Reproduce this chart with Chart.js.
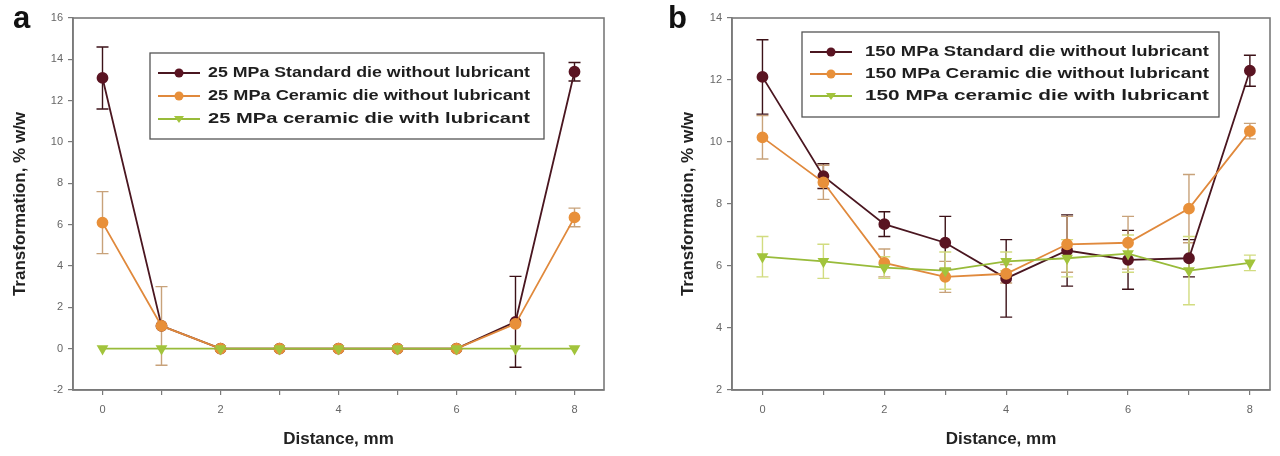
<!DOCTYPE html>
<html>
<head>
<meta charset="utf-8">
<script src="https://cdn.jsdelivr.net/npm/chart.js@4/dist/chart.umd.min.js"></script>
<style>
body { margin: 0; background: #fff; }
.panel { position: absolute; top: 0; width: 640px; height: 456px; }
.tag { position: absolute; font: bold 31px "Liberation Sans", Arial, sans-serif; color: #111; line-height: 1; }
</style>
</head>
<body>
<div class="panel" style="left:0"><canvas id="chartA" width="640" height="456"></canvas></div>
<div class="panel" style="left:640px"><canvas id="chartB" width="640" height="456"></canvas></div>
<div class="tag" style="left:13px;top:2px">a</div>
<div class="tag" style="left:668px;top:2px">b</div>
<script>
// Distance along the sample, mm
const distance = [0, 1, 2, 3, 4, 5, 6, 7, 8];

// Panel a: 25 MPa
const a_standard     = [13.1, 1.1, 0, 0, 0, 0, 0, 1.3, 13.4];
const a_standardErr  = [1.5, 0, 0, 0, 0, 0, 0, 2.2, 0.45];
const a_ceramic      = [6.1, 1.1, 0, 0, 0, 0, 0, 1.2, 6.35];
const a_ceramicErr   = [1.5, 1.9, 0, 0, 0, 0, 0, 0, 0.45];
const a_lubricant    = [0, 0, 0, 0, 0, 0, 0, 0, 0];
const a_lubricantErr = [0, 0, 0, 0, 0, 0, 0, 0, 0];

// Panel b: 150 MPa
const b_standard     = [12.1, 8.9, 7.35, 6.75, 5.6, 6.5, 6.2, 6.25, 12.3];
const b_standardErr  = [1.2, 0.4, 0.4, 0.85, 1.25, 1.15, 0.95, 0.6, 0.5];
const b_ceramic      = [10.15, 8.7, 6.1, 5.65, 5.75, 6.7, 6.75, 7.85, 10.35];
const b_ceramicErr   = [0.7, 0.55, 0.45, 0.5, 0.3, 0.9, 0.85, 1.1, 0.25];
const b_lubricant    = [6.3, 6.15, 5.95, 5.85, 6.15, 6.25, 6.4, 5.85, 6.1];
const b_lubricantErr = [0.65, 0.55, 0.35, 0.6, 0.3, 0.6, 0.6, 1.1, 0.25];

const xTicks = [0, 1, 2, 3, 4, 5, 6, 7, 8];

const FONT = '"Liberation Sans", Arial, sans-serif';
const AXIS = '#7a7a7a';

// order: lubricant drawn on top, standard at the bottom
const styles = {
    standard:  { line: '#4a1620', point: '#5a1422', err: '#3c1218', shape: 'circle', rot: 0, order: 3 },
    ceramic:   { line: '#e0893c', point: '#e8903a', err: '#c8a27a', shape: 'circle', rot: 0, order: 2 },
    lubricant: { line: '#98bb3a', point: '#a2c43c', err: '#d2dc80', shape: 'triangle', rot: 180, order: 1 }
};

function makeSet(label, values, errs, st) {
    return {
        label: label,
        data: distance.map((d, i) => ({ x: d, y: values[i] })),
        errors: errs,
        errColor: st.err,
        order: st.order,
        borderColor: st.line,
        backgroundColor: st.point,
        pointBackgroundColor: st.point,
        pointBorderColor: st.point,
        pointStyle: st.shape,
        pointRotation: st.rot,
        pointRadius: 5,
        borderWidth: 1.8,
        tension: 0
    };
}

// error bars drawn under the markers
const errorBars = {
    id: 'errorBars',
    beforeDatasetsDraw(chart) {
        const ctx = chart.ctx;
        const y = chart.scales.y;
        chart.data.datasets.forEach((ds, i) => {
            const meta = chart.getDatasetMeta(i);
            ctx.save();
            ctx.strokeStyle = ds.errColor;
            ctx.lineWidth = 1.4;
            meta.data.forEach((pt, j) => {
                const e = ds.errors[j];
                if (!e) return;
                const v = ds.data[j].y;
                const top = y.getPixelForValue(v + e);
                const bot = y.getPixelForValue(v - e);
                ctx.beginPath();
                ctx.moveTo(pt.x, top); ctx.lineTo(pt.x, bot);
                ctx.moveTo(pt.x - 6, top); ctx.lineTo(pt.x + 6, top);
                ctx.moveTo(pt.x - 6, bot); ctx.lineTo(pt.x + 6, bot);
                ctx.stroke();
            });
            ctx.restore();
        });
    }
};

// frame round the plot
const frame = {
    id: 'frame',
    afterDraw(chart) {
        const a = chart.chartArea, ctx = chart.ctx;
        ctx.save();
        ctx.strokeStyle = AXIS;
        ctx.lineWidth = 1.6;
        ctx.strokeRect(a.left, a.top, a.right - a.left, a.bottom - a.top);
        ctx.restore();
    }
};

// boxed legend inside the plot
const boxLegend = {
    id: 'boxLegend',
    afterDraw(chart, args, opts) {
        const ctx = chart.ctx;
        ctx.save();
        ctx.fillStyle = '#fff';
        ctx.fillRect(opts.x, opts.y, opts.w, opts.h);
        ctx.strokeStyle = '#555';
        ctx.lineWidth = 1.3;
        ctx.strokeRect(opts.x, opts.y, opts.w, opts.h);
        ctx.font = 'bold 14px ' + FONT;
        ctx.textBaseline = 'middle';
        chart.data.datasets.forEach((ds, i) => {
            const ry = opts.y + opts.first + i * opts.gap;
            const lx = opts.x + 8;
            ctx.strokeStyle = ds.borderColor;
            ctx.lineWidth = 2;
            ctx.beginPath();
            ctx.moveTo(lx, ry); ctx.lineTo(lx + 42, ry);
            ctx.stroke();
            ctx.fillStyle = ds.pointBackgroundColor;
            ctx.beginPath();
            if (ds.pointStyle === 'circle') {
                ctx.arc(lx + 21, ry, 4.5, 0, Math.PI * 2);
            } else {
                ctx.moveTo(lx + 16, ry - 3); ctx.lineTo(lx + 26, ry - 3); ctx.lineTo(lx + 21, ry + 4);
                ctx.closePath();
            }
            ctx.fill();
            ctx.fillStyle = '#1e1e1e';
            const t = ds.label;
            const w = ctx.measureText(t).width;
            const sx = opts.textW / w;
            ctx.save();
            ctx.translate(opts.x + opts.textX, ry);
            ctx.scale(sx, 1);
            ctx.fillText(t, 0, 0);
            ctx.restore();
        });
        ctx.restore();
    }
};

function makeChart(id, sets, yMin, yMax, xMax, padLeft, padRight, yWidth, legend) {
    return new Chart(document.getElementById(id).getContext('2d'), {
        type: 'line',
        data: { datasets: sets },
        options: {
            responsive: false,
            animation: false,
            layout: { padding: { top: 18, right: padRight, left: padLeft, bottom: 0 } },
            plugins: {
                legend: { display: false },
                tooltip: { enabled: false },
                boxLegend: legend
            },
            scales: {
                x: {
                    type: 'linear',
                    min: -0.5,
                    max: xMax,
                    afterBuildTicks: (s) => { s.ticks = xTicks.map(v => ({ value: v })); },
                    afterFit: (s) => { s.height = 66; },
                    grid: { drawOnChartArea: false, tickLength: 5, color: AXIS, lineWidth: 1.2 },
                    border: { color: AXIS, width: 1.6 },
                    ticks: {
                        color: '#666',
                        font: { family: FONT, size: 11 },
                        padding: 8,
                        autoSkip: false,
                        maxRotation: 0,
                        callback: (v) => (v % 2 === 0 ? String(v) : '')
                    },
                    title: {
                        display: true,
                        text: 'Distance, mm',
                        color: '#222',
                        font: { family: FONT, size: 17, weight: 'bold' },
                        padding: { top: 0, bottom: 6 }
                    }
                },
                y: {
                    min: yMin,
                    max: yMax,
                    afterFit: (s) => { s.width = yWidth; },
                    grid: { drawOnChartArea: false, tickLength: 5, color: AXIS, lineWidth: 1.2 },
                    border: { color: AXIS, width: 1.6 },
                    ticks: {
                        stepSize: 2,
                        color: '#666',
                        font: { family: FONT, size: 11 },
                        padding: 5
                    },
                    title: {
                        display: true,
                        text: 'Transformation, % w/w',
                        color: '#222',
                        font: { family: FONT, size: 17, weight: 'bold' },
                        padding: { top: 10, bottom: 0 }
                    }
                }
            }
        },
        plugins: [errorBars, frame, boxLegend]
    });
}

makeChart('chartA', [
    makeSet('25 MPa Standard die without lubricant', a_standard, a_standardErr, styles.standard),
    makeSet('25 MPa Ceramic die without lubricant', a_ceramic, a_ceramicErr, styles.ceramic),
    makeSet('25 MPa ceramic die with lubricant', a_lubricant, a_lubricantErr, styles.lubricant)
], -2, 16, 8.5, 0, 36, 73,
    { x: 150, y: 53, w: 394, h: 86, first: 20, gap: 23, textX: 58, textW: 322 });

makeChart('chartB', [
    makeSet('150 MPa Standard die without lubricant', b_standard, b_standardErr, styles.standard),
    makeSet('150 MPa Ceramic die without lubricant', b_ceramic, b_ceramicErr, styles.ceramic),
    makeSet('150 MPa ceramic die with lubricant', b_lubricant, b_lubricantErr, styles.lubricant)
], 2, 14, 8.33, 28, 10, 64,
    { x: 162, y: 32, w: 417, h: 85, first: 20, gap: 22, textX: 63, textW: 344 });
</script>
</body>
</html>
